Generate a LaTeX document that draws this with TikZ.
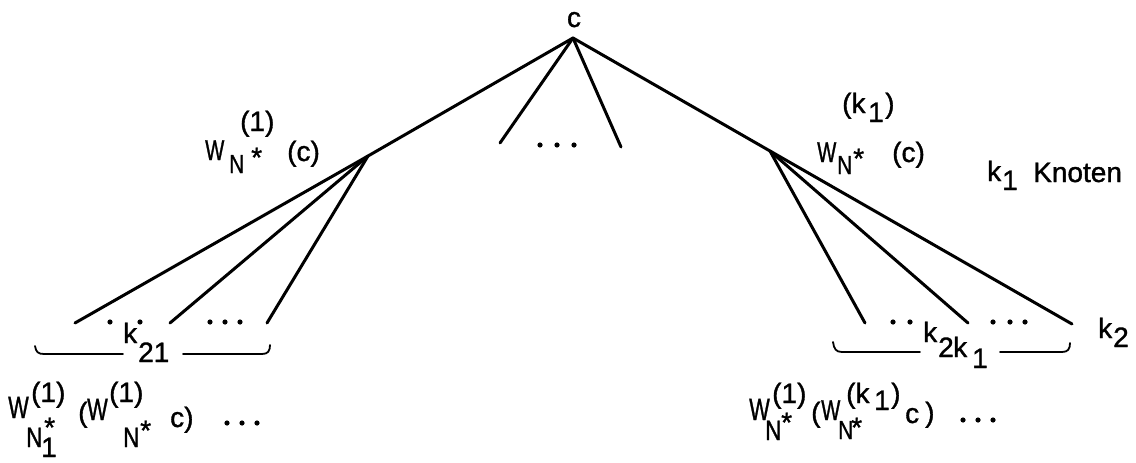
\documentclass[tikz,border=0pt]{standalone}
\usepackage{fontspec}
\setmainfont{Liberation Sans}[FakeBold=1.2]
\usepackage{graphicx}
\newcommand\nW{\scalebox{0.78}[1.1]{W}}
\newcommand\nN{\scalebox{0.8}[1]{N}}
\begin{document}
\begin{tikzpicture}[x=1pt,y=-1pt,
  lab/.style={anchor=base west,inner sep=0pt,font=\fontsize{28}{30}\selectfont},
  labs/.style={lab,font=\fontsize{26}{28}\selectfont},
  edge/.style={line width=3pt,line cap=round,line join=round},
  brace/.style={line width=1.8pt,line cap=round}]
\useasboundingbox (0,0) rectangle (1136,463);
% tree points
\coordinate (A) at (573,38);
\coordinate (L) at (368,156);
\coordinate (R) at (770,151);
\coordinate (L1) at (75,323);
\coordinate (L2) at (170,323);
\coordinate (L3) at (267,323);
\coordinate (M1) at (500,143);
\coordinate (M2) at (621,147);
\coordinate (R1) at (865,323);
\coordinate (R2) at (968,323);
\coordinate (R3) at (1072,324);
\draw[edge] (A) -- (L) -- (L1);
\draw[edge] (L) -- (L2);
\draw[edge] (L) -- (L3);
\draw[edge] (A) -- (M1);
\draw[edge] (A) -- (M2);
\draw[edge] (A) -- (R) -- (R3);
\draw[edge] (R) -- (R1);
\draw[edge] (R) -- (R2);
% dots
\foreach \x/\y in {540/145,557/145,574/145,110/322,140/322,210/322,225/322,240/322,893/322,910/322,993/322,1010/322,1025/322,227/423,242/423,257/423,963/420,978/420,993/420}
  \fill (\x,\y) circle (2.6);
% top
\node[lab,anchor=base] (tc) at (574,27) {c};
% left label
\node[lab] (l1) at (240,131) {(1)};
\node[labs] (lW) at (205,160) {\nW};
\node[labs] (lN) at (229,173) {\nN};
\node[lab] (lS) at (251,167) {*};
\node[lab] (lc) at (287,161) {(c)};
% right label
\node[lab] (r1) at (842,113) {(k};
\node[lab] (r1s) at (868,122) {1};
\node[lab] (r1p) at (885,113) {)};
\node[labs] (rW) at (817,162) {\nW};
\node[labs] (rN) at (837,174) {\nN};
\node[lab] (rS) at (853,168) {*};
\node[lab] (rc) at (892,162) {(c)};
\node[lab] (kk) at (987,181) {k};
\node[lab] (kk1) at (1002,190) {1};
\node[lab] (kn) at (1033,182) {Knoten};
% k21
\node[lab] (k21k) at (123,343) {k};
\node[lab] (k21n) at (138,362) {21};
% k2k1
\node[lab] (kak) at (923,342) {k};
\node[lab] (ka2) at (938,357) {2};
\node[lab] (kak2) at (953,357) {k};
\node[lab] (ka1) at (972,368) {1};
% k2
\node[lab] (k2k) at (1098,338) {k};
\node[lab] (k2n) at (1113,347) {2};
% braces
\draw[brace] (35,346) .. controls (36,352) and (38,354) .. (44,354) -- (123,354);
\draw[brace] (183,354) -- (262,354) .. controls (268,354) and (270,351) .. (270,345);
\draw[brace] (833,342) .. controls (834,349) and (836,352) .. (842,352) -- (920,352);
\draw[brace] (1000,352) -- (1062,352) .. controls (1068,352) and (1070,349) .. (1070,343);
% bottom left label
\node[lab] (blW) at (8,418) {\nW};
\node[lab] (bl1) at (31,402) {(1)};
\node[lab] (blN) at (26,447) {\nN};
\node[lab] (blS) at (44,437) {*};
\node[lab] (bl1s) at (41,457) {1};
\node[lab] (blp) at (78,422) {(};
\node[lab] (blW2) at (87,420) {\nW};
\node[lab] (bl21) at (109,402) {(1)};
\node[lab] (blN2) at (123,447) {\nN};
\node[lab] (blS2) at (140,440) {*};
\node[lab] (blc) at (170,427) {c)};
% bottom right label
\node[lab] (brW) at (749,420) {\nW};
\node[lab] (br1) at (772,403) {(1)};
\node[lab] (brN) at (765,440) {\nN};
\node[lab] (brS) at (781,432) {*};
\node[lab] (brp) at (811,422) {(};
\node[labs] (brW2) at (821,420) {\nW};
\node[labs] (brN2) at (838,439) {\nN};
\node[lab] (brS2) at (851,437) {*};
\node[lab] (brk) at (846,403) {(k};
\node[lab] (brk1) at (874,410) {1};
\node[lab] (brkp) at (891,403) {)};
\node[lab] (brc) at (905,423) {c};
\node[lab] (brcp) at (925,422) {)};
\end{tikzpicture}
\end{document}
